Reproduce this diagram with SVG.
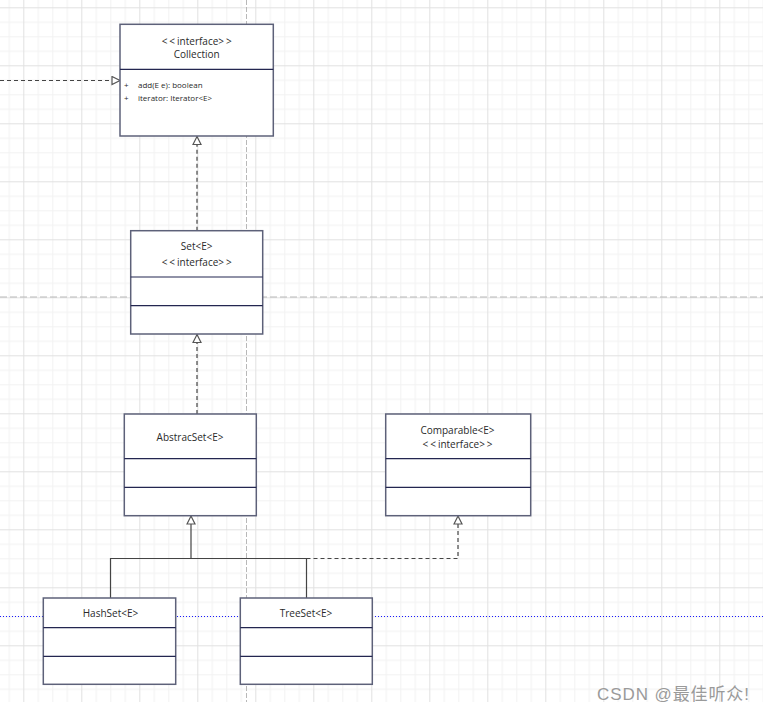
<svg xmlns="http://www.w3.org/2000/svg" width="763" height="713" viewBox="0 0 763 713">
<style>
.box{fill:#ffffff;stroke:#5d6179;stroke-width:1.5}
.div{stroke:#232650;stroke-width:1.2}
.t{font-family:"Open Sans","DejaVu Sans",sans-serif;font-size:10px;fill:#2a2a2a;text-anchor:middle}
.a{font-family:"Open Sans","DejaVu Sans",sans-serif;font-size:8px;fill:#2a2a2a}
.ls{letter-spacing:2px}
.dash{fill:none;stroke:#444;stroke-width:1.2;stroke-dasharray:4,3}
.solid{fill:none;stroke:#444;stroke-width:1.2}
</style>
<defs>
<pattern id="grid" patternUnits="userSpaceOnUse" x="23.3" y="7.3" width="58" height="58">
<rect x="0" y="0" width="58" height="58" fill="#ffffff"/>
<rect x="14.5" y="0" width="1" height="58" fill="#f2f2f2"/>
<rect x="29" y="0" width="1" height="58" fill="#f2f2f2"/>
<rect x="43.5" y="0" width="1" height="58" fill="#f2f2f2"/>
<rect x="0" y="14.5" width="58" height="1" fill="#f2f2f2"/>
<rect x="0" y="29" width="58" height="1" fill="#f2f2f2"/>
<rect x="0" y="43.5" width="58" height="1" fill="#f2f2f2"/>
<rect x="0" y="0" width="1" height="58" fill="#e1e1e1"/>
<rect x="0" y="0" width="58" height="1" fill="#e1e1e1"/>
</pattern>
<marker id="tri" markerWidth="12" markerHeight="12" refX="9" refY="5" orient="auto" markerUnits="userSpaceOnUse">
<path d="M1,1 L9,5 L1,9 Z" fill="#ffffff" stroke="#555" stroke-width="1.2"/>
</marker>
</defs>
<rect x="0" y="0" width="763" height="713" fill="#ffffff"/>
<rect x="0" y="0" width="763" height="702" fill="url(#grid)"/>
<line x1="246.5" y1="0" x2="246.5" y2="702" stroke="#b8b8b8" stroke-width="1" stroke-dasharray="5,2"/>
<line x1="0" y1="297" x2="763" y2="297" stroke="#b8b8b8" stroke-width="1" stroke-dasharray="7,3"/>
<line x1="0" y1="616.5" x2="763" y2="616.5" stroke="#1a1aff" stroke-width="1" stroke-dasharray="1,2"/>

<g id="connectors">
<path class="dash" d="M0,80.5 L120,80.5" marker-end="url(#tri)"/>
<path class="dash" d="M197,230.7 L197,136.5" marker-end="url(#tri)"/>
<path class="dash" d="M197,414 L197,334.5" marker-end="url(#tri)"/>
<path class="solid" d="M110.5,598 L110.5,558.5 L306.5,558.5 L306.5,598"/>
<path class="solid" d="M191,558.5 L191,516" marker-end="url(#tri)"/>
<path class="dash" d="M306.5,558.5 L458,558.5 L458,516" marker-end="url(#tri)"/>
</g>

<g id="collection">
<rect class="box" x="120" y="24.3" width="153.3" height="111.7"/>
<line class="div" x1="120" y1="69.3" x2="273.3" y2="69.3"/>
<text class="t" x="197.7" y="44.5"><tspan class="ls">&lt;&lt;</tspan>interface<tspan class="ls">&gt;&gt;</tspan></text>
<text class="t" x="196.7" y="58">Collection</text>
<text class="a" x="124" y="88">+</text>
<text class="a" x="138" y="88">add(E e): boolean</text>
<text class="a" x="124" y="101">+</text>
<text class="a" x="138" y="101">iterator:  Iterator&lt;E&gt;</text>
</g>

<g id="set">
<rect class="box" x="130.7" y="230.7" width="132" height="103.3"/>
<line class="div" x1="130.7" y1="277" x2="262.7" y2="277"/>
<line class="div" x1="130.7" y1="305.7" x2="262.7" y2="305.7"/>
<text class="t" x="196.7" y="250">Set&lt;E&gt;</text>
<text class="t" x="197.7" y="266"><tspan class="ls">&lt;&lt;</tspan>interface<tspan class="ls">&gt;&gt;</tspan></text>
</g>

<g id="abstracset">
<rect class="box" x="124.3" y="414" width="132" height="101.7"/>
<line class="div" x1="124.3" y1="458.7" x2="256.3" y2="458.7"/>
<line class="div" x1="124.3" y1="487.3" x2="256.3" y2="487.3"/>
<text class="t" x="190" y="441">AbstracSet&lt;E&gt;</text>
</g>

<g id="comparable">
<rect class="box" x="385.7" y="414" width="145" height="101.7"/>
<line class="div" x1="385.7" y1="458.7" x2="530.7" y2="458.7"/>
<line class="div" x1="385.7" y1="487.3" x2="530.7" y2="487.3"/>
<text class="t" x="457.5" y="433.5">Comparable&lt;E&gt;</text>
<text class="t" x="458.5" y="448"><tspan class="ls">&lt;&lt;</tspan>interface<tspan class="ls">&gt;&gt;</tspan></text>
</g>

<g id="hashset">
<rect class="box" x="43.3" y="598" width="132.4" height="86.3"/>
<line class="div" x1="43.3" y1="627.7" x2="175.7" y2="627.7"/>
<line class="div" x1="43.3" y1="656.3" x2="175.7" y2="656.3"/>
<text class="t" x="110.5" y="617">HashSet&lt;E&gt;</text>
</g>

<g id="treeset">
<rect class="box" x="240.3" y="598" width="132" height="86.3"/>
<line class="div" x1="240.3" y1="627.7" x2="372.3" y2="627.7"/>
<line class="div" x1="240.3" y1="656.3" x2="372.3" y2="656.3"/>
<text class="t" x="306" y="617">TreeSet&lt;E&gt;</text>
</g>

<text x="597" y="700" font-family="'Liberation Sans','Noto Sans CJK SC',sans-serif" font-size="17" fill="#9a9a9a" textLength="152" lengthAdjust="spacing">CSDN @最佳听众!</text>
</svg>
